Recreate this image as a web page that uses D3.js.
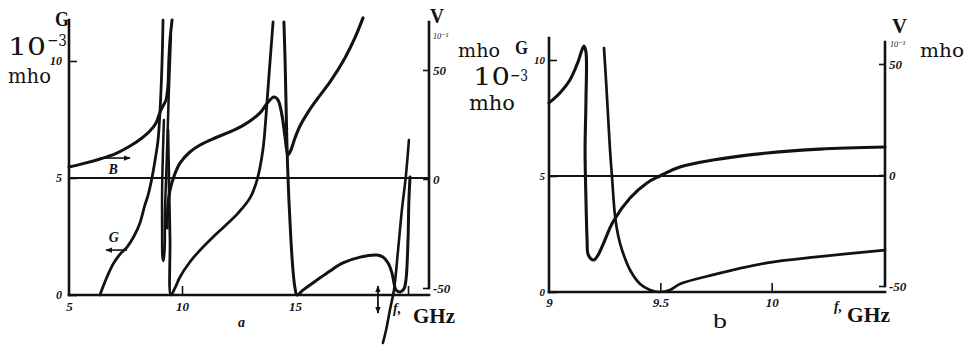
<!DOCTYPE html>
<html>
<head>
<meta charset="utf-8">
<script src="https://cdn.jsdelivr.net/npm/d3@7"></script>
<style>
  body { margin: 0; background: #fff; }
  svg { display: block; }
</style>
</head>
<body>
<svg id="fig" width="967" height="346"></svg>
<script>
// ---------- Panel a: 5–20 GHz, conductance G (left, 10^-3 mho) and susceptance B (right, 10^-3 mho)
const aFreqTicks = [5, 10, 15];
const aFreqMarks = [10, 20];
const aGTicks = [0, 5, 10];
const aVTicks = [-50, 0, 50];

// susceptance, first branch up to the 9.5 GHz pole  [f GHz, B]
const aB1 = [[5.00,5.5],[5.71,7.3],[6.37,9.2],[7.04,11.5],[7.70,15.1],[8.23,18.8],[8.58,22.0],[8.85,25.7],
  [9.03,30.7],[9.16,33.5],[9.29,36.2],[9.38,43.1],[9.42,54.6],[9.47,63.8],[9.56,72.9]];
// narrow loop at the first resonance  [f GHz, B]
const aLoop = [[9.51,66.1],[9.42,40.8],[9.34,13.3],[9.25,-14.2],[9.23,-32.6],[9.18,-37.6],[9.14,-36.2],
  [9.12,-23.4],[9.12,-5.0],[9.16,13.3],[9.20,27.1]];
// susceptance, second branch  [f GHz, B]
const aB2 = [[9.34,-22.5],[9.38,-11.9],[9.47,-5.0],[9.65,1.4],[9.91,7.3],[10.35,12.4],[10.80,15.6],[11.46,18.8],
  [12.12,21.6],[12.65,24.3],[13.01,26.6],[13.45,30.3],[13.81,35.3],[14.07,37.6],[14.25,36.2],[14.42,29.4],
  [14.56,19.3],[14.69,11.0],[14.82,13.3],[15.00,18.8],[15.22,24.3],[15.58,30.7],[16.02,37.2],[16.55,44.5],
  [17.21,55.5],[17.65,64.7],[18.01,73.9]];
// susceptance near f0  [f GHz, B]
const aB3 = [[20.04,17.9],[19.91,1.8],[19.73,-14.2],[19.56,-32.6],[19.38,-50.9],[19.20,-60.1],[19.03,-69.3],[18.89,-75.2]];
// conductance, rising to the first resonance  [f GHz, G]
const aG1 = [[6.37,0],[6.50,0.34],[6.68,0.77],[6.95,1.32],[7.26,1.75],[7.57,2.05],[7.88,2.52],[8.14,3.08],
  [8.36,3.85],[8.50,4.27],[8.67,5.0],[8.81,5.77],[8.94,6.62],[9.03,7.91],[9.12,10.04],[9.16,11.75]];
// conductance between the first and second resonance  [f GHz, G]
const aG2 = [[9.38,7.05],[9.42,4.91],[9.47,2.35],[9.51,0],[9.69,0.30],[9.91,0.77],[10.35,1.41],[10.80,1.92],
  [11.33,2.44],[11.90,2.95],[12.48,3.50],[13.01,4.15],[13.32,4.91],[13.58,6.20],[13.72,7.69],[13.85,9.40],[14.03,11.67]];
// conductance after the second resonance, up to f0  [f GHz, G]
const aG3 = [[14.51,11.67],[14.56,10.04],[14.60,8.33],[14.65,6.20],[14.73,4.06],[14.82,2.35],[14.91,1.07],
  [15.00,0.30],[15.09,0],[15.35,0.21],[15.97,0.64],[16.55,1.03],[17.12,1.37],[17.88,1.62],[18.63,1.71],
  [18.89,1.62],[19.12,1.37],[19.29,0.94],[19.38,0.51],[19.47,0.21],[19.65,0.13],[19.82,0.26],[19.91,0.64],
  [20.00,2.35],[20.04,4.06],[20.09,5.04]];

// ---------- Panel b: 9–10.5 GHz
const bFreqTicks = [9, 9.5, 10];
const bFreqMarks = [9.5, 10];
const bGTicks = [0, 5, 10];
const bVTicks = [-50, 0, 50];
// conductance  [f GHz, G]
const bG = [[9.0,8.15],[9.049,8.58],[9.094,9.14],[9.130,9.91],[9.148,10.43],[9.157,10.60],[9.166,10.34],
  [9.166,8.28],[9.162,6.12],[9.166,3.97],[9.171,2.24],[9.175,1.64],[9.189,1.42],[9.202,1.38],[9.220,1.59],
  [9.242,2.03],[9.287,3.02],[9.364,4.05],[9.440,4.70],[9.498,5.0],[9.588,5.39],[9.736,5.69],[9.979,5.99],
  [10.217,6.16],[10.509,6.25]];
// susceptance  [f GHz, B]
const bB = [[9.247,57.2],[9.256,42.8],[9.265,27.0],[9.274,11.3],[9.283,-0.9],[9.296,-18.0],[9.310,-27.0],
  [9.328,-33.8],[9.364,-42.8],[9.409,-49.1],[9.454,-51.8],[9.498,-52.7],[9.543,-51.8],[9.588,-49.1],
  [9.736,-45.0],[9.979,-39.6],[10.203,-36.9],[10.509,-33.8]];

// ---------- drawing
const ink = "#121212";
const serif = "'Liberation Serif','DejaVu Serif',serif";
const wide = "'DejaVu Serif','Liberation Serif',serif";
const svg = d3.select("#fig");

svg.append("defs").append("marker")
  .attr("id", "head").attr("viewBox", "0 0 10 10").attr("refX", 9).attr("refY", 5)
  .attr("markerWidth", 7).attr("markerHeight", 7).attr("orient", "auto-start-reverse")
  .attr("markerUnits", "userSpaceOnUse")
  .append("path").attr("d", "M0,1 L10,5 L0,9 Z").attr("fill", ink);

function curve(data, xs, ys, w = 3) {
  const gen = d3.line().x(d => xs(d[0])).y(d => ys(d[1])).curve(d3.curveCatmullRom.alpha(0.5));
  svg.append("path").attr("d", gen(data)).attr("fill", "none").attr("stroke", ink)
    .attr("stroke-width", w).attr("stroke-linejoin", "round").attr("stroke-linecap", "round");
}
function seg(x1, y1, x2, y2, w = 2.6) {
  return svg.append("line").attr("x1", x1).attr("y1", y1).attr("x2", x2).attr("y2", y2)
    .attr("stroke", ink).attr("stroke-width", w).attr("stroke-linecap", "square");
}
function label(txt, x, y, size, opts = {}) {
  const t = svg.append("text").attr("x", x).attr("y", y).text(txt)
    .attr("font-family", opts.family || serif).attr("font-size", size).attr("fill", ink)
    .attr("font-weight", opts.bold ? "bold" : "normal")
    .attr("font-style", opts.italic ? "italic" : "normal");
  if (opts.len) t.attr("textLength", opts.len).attr("lengthAdjust", "spacingAndGlyphs");
  if (opts.anchor) t.attr("text-anchor", opts.anchor);
  return t;
}
function styleAxis(g, size = 13) {
  g.select(".domain").remove();
  g.attr("font-family", serif).attr("font-size", size);
  g.selectAll("text").attr("font-style", "italic").attr("font-weight", "bold").attr("fill", ink);
  g.selectAll("line").attr("stroke", ink).attr("stroke-width", 1.6);
}
const minusFmt = d => (d < 0 ? "-" + Math.abs(d) : String(d));

function panel(p) {
  const { x, g, v } = p;
  // frame: both vertical axes, baseline and the G = 5 / B = 0 line
  seg(p.left, p.topL, p.left, p.bottom);
  seg(p.right, p.topR, p.right, v(-50));
  seg(p.left, p.bottom, p.right, p.bottom);
  seg(p.left, g(5), p.right, g(5), 2.2);

  svg.append("g").attr("transform", `translate(${p.left},0)`)
    .call(d3.axisLeft(g).tickValues(p.gTicks).tickSize(-8).tickPadding(p.padL)).call(styleAxis, p.gSize);
  svg.append("g").attr("transform", `translate(${p.right},0)`)
    .call(d3.axisRight(v).tickValues(p.vTicks).tickSize(-6).tickPadding(4).tickFormat(minusFmt)).call(styleAxis);
  svg.append("g").attr("transform", `translate(0,${p.bottom})`)
    .call(d3.axisBottom(x).tickValues(p.fTicks).tickSize(0).tickPadding(p.padB).tickFormat(d3.format("~g")))
    .call(styleAxis);
  svg.append("g").attr("transform", `translate(0,${p.bottom})`)
    .call(d3.axisBottom(x).tickValues(p.fMarks).tickSize(-9).tickFormat(""))
    .call(styleAxis);
}

// Panel a
const xA = d3.scaleLinear().domain([5, 20]).range([69, 408]);
const gA = d3.scaleLinear().domain([0, 10]).range([295, 61]);
const vA = d3.scaleLinear().domain([-50, 50]).range([288, 70]);
panel({ x: xA, g: gA, v: vA, left: 69, right: 429, topL: 20, topR: 22, bottom: 295,
  gTicks: aGTicks, vTicks: aVTicks, fTicks: aFreqTicks, fMarks: aFreqMarks, padL: 7, padB: 7, gSize: 12 });

curve(aB1, xA, vA);
curve(aLoop, xA, vA, 2.5);
curve(aB2, xA, vA, 3.1);
curve(aB3, xA, vA, 2.6);
curve(aG1, xA, gA, 2.8);
curve(aG2, xA, gA, 2.8);
curve(aG3, xA, gA, 3);

// arrows telling which axis each family belongs to
svg.append("line").attr("x1", xA(6.37)).attr("y1", vA(9.6)).attr("x2", xA(7.70)).attr("y2", vA(9.6))
  .attr("stroke", ink).attr("stroke-width", 1.6).attr("marker-end", "url(#head)");
label("B", xA(6.95), vA(2.3), 14, { italic: true, bold: true, anchor: "middle" });
svg.append("line").attr("x1", xA(7.57)).attr("y1", gA(1.92)).attr("x2", xA(6.64)).attr("y2", gA(1.92))
  .attr("stroke", ink).attr("stroke-width", 1.6).attr("marker-end", "url(#head)");
label("G", xA(6.98), gA(2.26), 14, { italic: true, bold: true, anchor: "middle" });
svg.append("line").attr("x1", xA(18.67)).attr("y1", 286).attr("x2", xA(18.67)).attr("y2", 313)
  .attr("stroke", ink).attr("stroke-width", 1.8)
  .attr("marker-start", "url(#head)").attr("marker-end", "url(#head)");

// axis titles, panel a
label("G", 55, 26, 20, { bold: true, len: 14 });
label("10", 8, 55, 24, { family: wide, len: 38 });
label("\u22123", 47, 46, 17, { family: wide, len: 20 });
label("mho", 8, 83, 20, { family: wide, len: 43 });
label("V", 430, 23, 20, { bold: true, len: 14 });
label("10\u207B\u00B3", 433, 39, 9, { italic: true, len: 15 });
label("mho", 458, 57, 19, { family: wide, len: 42 });
label("f,", 393, 313, 14, { italic: true, bold: true });
label("GHz", 413, 323, 20, { bold: true, len: 42 });
label("a", 238, 327, 14, { italic: true, bold: true });

// Panel b
const xB = d3.scaleLinear().domain([9, 10.5]).range([549, 883]);
const gB = d3.scaleLinear().domain([0, 10]).range([292, 60]);
const vB = d3.scaleLinear().domain([-50, 50]).range([286, 64]);
panel({ x: xB, g: gB, v: vB, left: 549, right: 885, topL: 38, topR: 42, bottom: 292,
  gTicks: bGTicks, vTicks: bVTicks, fTicks: bFreqTicks, fMarks: bFreqMarks, padL: 4, padB: 6, gSize: 11 });

curve(bG, xB, gB, 3.1);
curve(bB, xB, vB, 2.7);

label("G", 515, 54, 19, { bold: true, len: 13 });
label("10", 473, 85, 24, { family: wide, len: 37 });
label("\u22123", 510, 81, 17, { family: wide, len: 18 });
label("mho", 469, 110, 21, { family: wide, len: 46 });
label("V", 892, 33, 20, { bold: true, len: 15 });
label("10\u207B\u00B3", 890, 47, 9, { italic: true, len: 15 });
label("mho", 920, 57, 19, { family: wide, len: 44 });
label("f,", 834, 311, 14, { italic: true, bold: true });
label("GHz", 847, 322, 21, { bold: true, len: 43 });
label("b", 713, 328, 22, { len: 14 });
</script>
</body>
</html>
